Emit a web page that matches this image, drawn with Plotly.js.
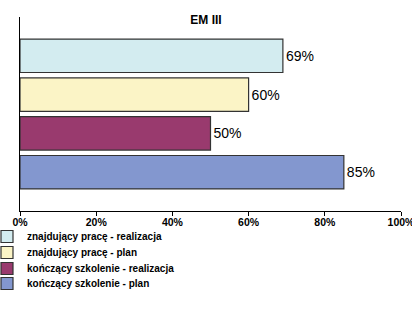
<!DOCTYPE html>
<html>
<head>
<meta charset="utf-8">
<script src="https://cdn.plot.ly/plotly-3.0.1.min.js"></script>
<style>html,body{margin:0;padding:0;background:#fff;}#chart{width:412px;height:311px;}</style>
</head>
<body>
<div id="chart"></div>
<script>
var seriesNames = ["znajdujący pracę - realizacja", "znajdujący pracę - plan", "kończący szkolenie - realizacja", "kończący szkolenie - plan"];
var seriesValues = [0.69, 0.60, 0.50, 0.85];
var seriesColors = ["#d3ecf0", "#fbf4c6", "#993a6e", "#8397cf"];
var xTickVals = [0, 0.2, 0.4, 0.6, 0.8, 1.0];
var xTickText = ["0%", "20%", "40%", "60%", "80%", "100%"];
var chartTitle = "EM III";

var boldFont = "'Liberation Sans Narrow', 'Arial Narrow', 'Liberation Sans', Arial, sans-serif";
var legendIds = ["legend", "legend2", "legend3", "legend4"];
var traces = seriesNames.map(function (name, i) {
  return {
    type: "bar",
    orientation: "h",
    name: name,
    legend: legendIds[i],
    x: [seriesValues[i]],
    y: [name],
    marker: { color: seriesColors[i], line: { color: "#333333", width: 1.2 } },
    text: [Math.round(seriesValues[i] * 100) + "%"],
    textposition: "outside",
    textfont: { family: "'Liberation Sans', Arial, sans-serif", size: 14, color: "#000" },
    cliponaxis: false,
    hoverinfo: "none"
  };
});

var layout = {
  width: 412,
  height: 311,
  margin: { l: 20, r: 11, t: 17, b: 100, autoexpand: false },
  paper_bgcolor: "#fff",
  plot_bgcolor: "#fff",
  barmode: "overlay",
  bargap: 0.14,
  showlegend: true,
  title: {
    text: "<b>" + chartTitle + "</b>",
    font: { family: "'Liberation Sans', Arial, sans-serif", size: 12, color: "#000" },
    x: 0.5, xref: "container", xanchor: "center",
    y: 1 - 20 / 311, yref: "container", yanchor: "middle"
  },
  xaxis: {
    range: [0, 1],
    tickvals: xTickVals,
    ticktext: xTickText,
    ticks: "outside",
    ticklen: 4,
    tickcolor: "#000",
    showgrid: false,
    zeroline: false,
    showline: true,
    linecolor: "#000",
    linewidth: 1,
    automargin: false,
    ticklabeloverflow: "allow",
    ticklabelstandoff: -3,
    tickfont: { family: boldFont, size: 10.5, color: "#000", weight: "bold" },
    fixedrange: true
  },
  yaxis: {
    type: "category",
    categoryorder: "array",
    categoryarray: seriesNames.slice().reverse(),
    range: [-1, 4],
    showticklabels: false,
    ticks: "",
    showgrid: false,
    zeroline: false,
    showline: true,
    linecolor: "#000",
    linewidth: 1,
    automargin: false,
    fixedrange: true
  }
};

var legendRowTops = [222, 238, 254, 269];
legendIds.forEach(function (id, i) {
  layout[id] = {
    orientation: "v",
    xref: "paper",
    yref: "container",
    x: -33 / 381,
    xanchor: "left",
    y: 1 - legendRowTops[i] / 311,
    yanchor: "top",
    font: { family: boldFont, size: 10, color: "#000", weight: "bold" },
    itemwidth: 30,
    bgcolor: "rgba(0,0,0,0)"
  };
});

Plotly.newPlot("chart", traces, layout, { staticPlot: true, displayModeBar: false });
</script>
</body>
</html>
